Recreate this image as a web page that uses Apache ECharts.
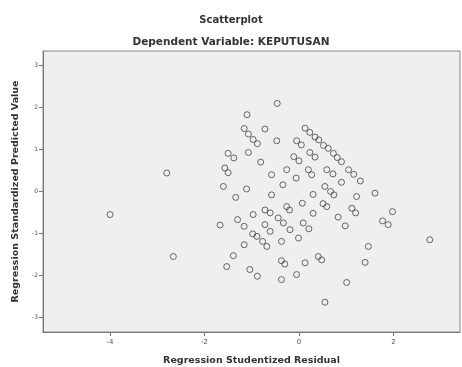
<!DOCTYPE html>
<html>
<head>
<meta charset="utf-8">
<script src="https://cdn.jsdelivr.net/npm/echarts@6/dist/echarts.min.js"></script>
<style>
  html, body { margin: 0; padding: 0; background: #fff; }
  #main { width: 462px; height: 367px; }
</style>
</head>
<body>
<div id="main"></div>
<script>
// studentized residual (x) vs standardized predicted value (y)
var residual = [
  -0.46, -1.10, -1.16, -1.07, -0.97, -0.88, -0.72, -0.47, -1.07, -1.50,
  -1.38, -0.81, -1.57, -1.50, -1.60, -1.11, -1.34, -0.58, -0.58, -0.34,
  -0.26, -0.06, -0.05, 0.05, -0.11, 0.00, 0.13, 0.23, 0.34, 0.42,
  0.52, 0.62, 0.73, 0.81, 0.90, 1.05, 1.16, 1.30, 0.23, 0.34,
  0.20, 0.27, 0.59, 0.72, 0.90, 0.55, 0.67, 0.74, 0.30, 1.22,
  1.61, 0.07, -0.26, -0.20, 0.51, 0.59, 1.12, 1.20, 0.83, 0.98,
  1.98, 1.77, 1.89, 0.30, 0.09, 0.21, -0.19, -0.01, -0.72, -0.61,
  -0.44, -0.33, -0.97, -1.30, -1.16, -1.67, -0.72, -0.61, -0.98, -0.89,
  -0.77, -0.68, -0.37, -1.16, -1.39, -1.53, -1.04, -0.88, -0.37, -0.30,
  0.13, 0.41, 0.48, -0.05, -0.37, 0.55, 1.01, 1.40, 1.47, 2.77,
  -4.00, -2.80, -2.66
];
var predicted = [
  2.10, 1.83, 1.50, 1.37, 1.24, 1.14, 1.49, 1.21, 0.93, 0.91,
  0.80, 0.70, 0.56, 0.45, 0.12, 0.06, -0.14, 0.40, -0.08, 0.16,
  0.52, 0.32, 1.21, 1.11, 0.83, 0.73, 1.51, 1.41, 1.30, 1.23,
  1.10, 1.03, 0.91, 0.81, 0.71, 0.52, 0.41, 0.25, 0.93, 0.82,
  0.52, 0.40, 0.52, 0.42, 0.22, 0.12, 0.00, -0.08, -0.07, -0.12,
  -0.04, -0.28, -0.36, -0.44, -0.29, -0.36, -0.40, -0.51, -0.61, -0.82,
  -0.48, -0.70, -0.79, -0.52, -0.75, -0.89, -0.91, -1.11, -0.44, -0.51,
  -0.63, -0.75, -0.55, -0.67, -0.83, -0.80, -0.79, -0.95, -1.01, -1.07,
  -1.19, -1.31, -1.19, -1.27, -1.53, -1.79, -1.86, -2.02, -1.65, -1.73,
  -1.70, -1.55, -1.63, -1.98, -2.10, -2.64, -2.17, -1.69, -1.31, -1.15,
  -0.55, 0.44, -1.55
];
var xTicks = [-4, -2, 0, 2];
var yTicks = [-3, -2, -1, 0, 1, 2, 3];

var points = residual.map(function (x, i) { return [x, predicted[i]]; });
var font = 'DejaVu Sans, sans-serif';

var chart = echarts.init(document.getElementById('main'), undefined, {renderer: 'canvas'});
chart.setOption({
  animation: false,
  backgroundColor: '#fff',
  title: [
    {
      text: 'Scatterplot', left: 'center', top: 10,
      textStyle: {fontFamily: font, fontSize: 10, fontWeight: 'bold', color: '#333'}
    },
    {
      text: 'Dependent Variable: KEPUTUSAN', left: 'center', top: 32,
      textStyle: {fontFamily: font, fontSize: 10.5, fontWeight: 'bold', color: '#333'}
    }
  ],
  grid: {
    left: 43, right: 2, top: 51, bottom: 35,
    outerBoundsMode: 'none',
    show: true, backgroundColor: '#efefef', borderColor: '#888', borderWidth: 1
  },
  xAxis: {
    type: 'value', min: -5.42, max: 3.41,
    name: 'Regression Studentized Residual', nameLocation: 'middle', nameGap: 24,
    nameTextStyle: {fontFamily: font, fontSize: 9.5, fontWeight: 'bold', color: '#333'},
    axisLine: {show: true, onZero: false, lineStyle: {color: '#777'}},
    axisTick: {show: true, length: 4, lineStyle: {color: '#777'}, customValues: xTicks},
    axisLabel: {fontFamily: font, fontSize: 7, color: '#555', margin: 7, customValues: xTicks},
    splitLine: {show: false}
  },
  yAxis: {
    type: 'value', min: -3.35, max: 3.35,
    name: 'Regression Standardized Predicted Value', nameLocation: 'middle', nameGap: 22,
    nameRotate: 90,
    nameTextStyle: {fontFamily: font, fontSize: 9.5, fontWeight: 'bold', color: '#333'},
    axisLine: {show: true, onZero: false, lineStyle: {color: '#777'}},
    axisTick: {show: true, length: 4, lineStyle: {color: '#777'}, customValues: yTicks},
    axisLabel: {fontFamily: font, fontSize: 6, color: '#555', margin: 5, customValues: yTicks},
    splitLine: {show: false}
  },
  series: [{
    type: 'scatter',
    data: points,
    symbol: 'circle',
    symbolSize: 6,
    itemStyle: {color: 'rgba(0,0,0,0)', borderColor: '#444', borderWidth: 1}
  }]
});
</script>
</body>
</html>
